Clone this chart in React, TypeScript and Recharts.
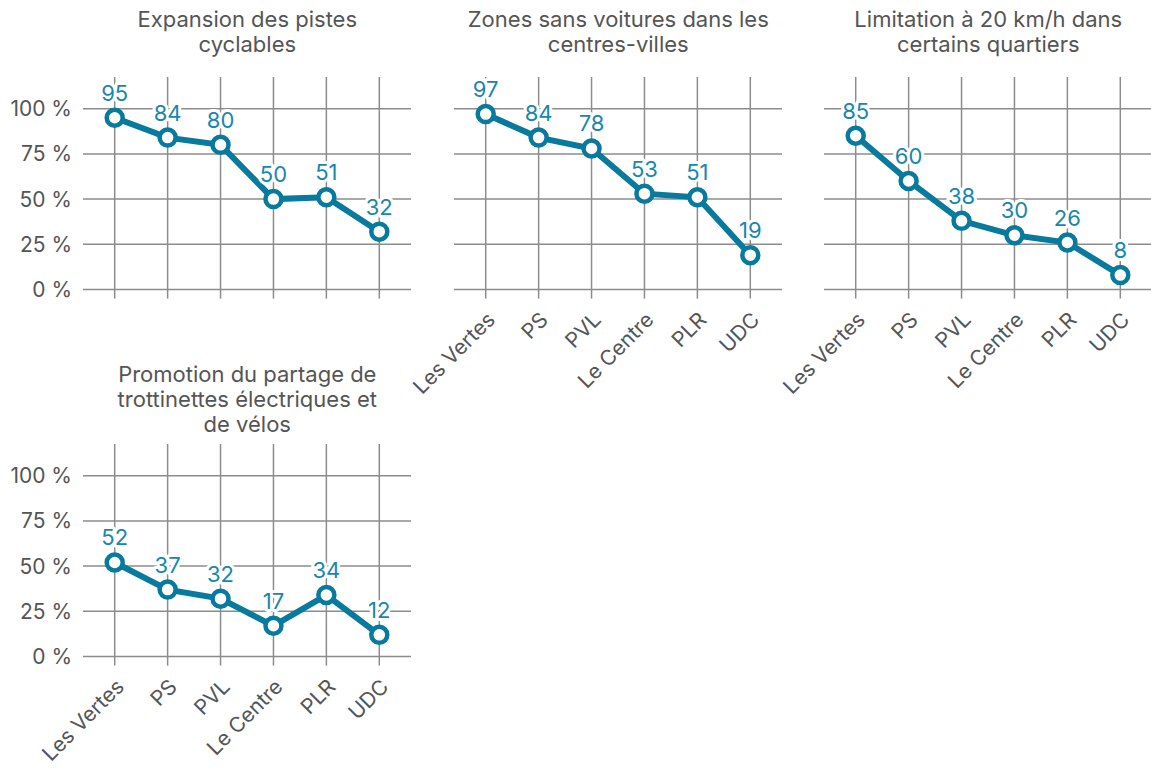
import { LineChart, Line, XAxis, YAxis, CartesianGrid, LabelList } from 'recharts';

const parties = ['Les Vertes', 'PS', 'PVL', 'Le Centre', 'PLR', 'UDC'];

const pistesCyclables = [95, 84, 80, 50, 51, 32];
const zonesSansVoitures = [97, 84, 78, 53, 51, 19];
const limitation20 = [85, 60, 38, 30, 26, 8];
const partageTrottinettes = [52, 37, 32, 17, 34, 12];

const titlePistes = ['Expansion des pistes', 'cyclables'];
const titleZones = ['Zones sans voitures dans les', 'centres-villes'];
const titleLimitation = ['Limitation à 20 km/h dans', 'certains quartiers'];
const titlePartage = ['Promotion du partage de', 'trottinettes électriques et', 'de vélos'];

const yTicks = [0, 25, 50, 75, 100];

const FONT = 'Inter, "Liberation Sans", sans-serif';
const LINE = '#087a9e';
const LABEL = '#1887ae';
const GRID = '#8c8c8c';
const TEXT = '#555555';

// plot area geometry
const colLeft = [83.3, 454.3, 824.3];
const rowTop = [76.7, 444.3];
const plotW = 328;
const plotH = 221.6;
const yAxisW = 83;
const xAxisH = 110;
const pad = 10;

const panels = [
  { title: titlePistes, values: pistesCyclables, col: 0, row: 0, showX: false, showY: true, titleTop: 7 },
  { title: titleZones, values: zonesSansVoitures, col: 1, row: 0, showX: true, showY: false, titleTop: 7 },
  { title: titleLimitation, values: limitation20, col: 2, row: 0, showX: true, showY: false, titleTop: 7 },
  { title: titlePartage, values: partageTrottinettes, col: 0, row: 1, showX: true, showY: true, titleTop: 361.5 },
];

const ValueLabel = (props: any) => {
  const x = props.viewBox?.x ?? props.x;
  const y = props.viewBox?.y ?? props.y;
  return (
    <text
      x={x}
      y={y - 17}
      textAnchor="middle"
      fill={LABEL}
      stroke="#ffffff"
      strokeWidth={6}
      strokeLinejoin="round"
      paintOrder="stroke"
      fontSize={22}
      fontFamily={FONT}
    >
      {props.value}
    </text>
  );
};

const Panel = ({ p }: { p: (typeof panels)[number] }) => {
  const data = parties.map((name, i) => ({ name, value: p.values[i] }));
  const xh = p.showX ? xAxisH : 0;
  const extraBottom = p.showX ? 0 : 20;
  const left = colLeft[p.col] - yAxisW;
  const top = rowTop[p.row] - pad;
  const centerX = colLeft[p.col] + plotW / 2;
  return (
    <>
      <div
        style={{
          position: 'absolute',
          left: centerX - 200,
          top: p.titleTop,
          width: 400,
          textAlign: 'center',
          fontFamily: FONT,
          fontSize: 22,
          lineHeight: '25px',
          color: TEXT,
        }}
      >
        {p.title.map((t, i) => (
          <div key={i}>{t}</div>
        ))}
      </div>
      <div style={{ position: 'absolute', left, top }}>
        <LineChart
          width={yAxisW + plotW + pad}
          height={pad + plotH + xh + extraBottom}
          data={data}
          margin={{ top: pad, right: pad, left: p.showY ? 0 : yAxisW, bottom: extraBottom }}
        >
          <CartesianGrid stroke={GRID} strokeWidth={1.5} syncWithTicks />
          <XAxis
            dataKey="name"
            hide={!p.showX}
            height={xh}
            interval={0}
            padding={{ left: 31.7, right: 31.7 }}
            axisLine={false}
            tickLine={false}
            tickSize={6}
            tickMargin={6}
            angle={-45}
            textAnchor="end"
            tick={{ fill: TEXT, fontSize: 21, fontFamily: FONT }}
          />
          <YAxis
            hide={!p.showY}
            width={p.showY ? yAxisW : 0}
            domain={[-5, 117.5]}
            ticks={yTicks}
            interval={0}
            allowDataOverflow
            axisLine={false}
            tickLine={false}
            tickSize={6}
            tickMargin={5}
            tickFormatter={(v) => `${v} %`}
            tick={{ fill: TEXT, fontSize: 21, fontFamily: FONT }}
          />
          <Line
            dataKey="value"
            stroke={LINE}
            strokeWidth={6}
            dot={{ r: 8, fill: '#ffffff', stroke: LINE, strokeWidth: 4.5 }}
            activeDot={false}
            isAnimationActive={false}
          >
            <LabelList dataKey="value" content={ValueLabel} />
          </Line>
        </LineChart>
      </div>
    </>
  );
};

export default function App() {
  return (
    <div
      style={{
        position: 'absolute',
        left: 0,
        top: 0,
        width: 1151,
        height: 769,
        overflow: 'hidden',
        background: '#ffffff',
      }}
    >
      {panels.map((p, i) => (
        <Panel key={i} p={p} />
      ))}
    </div>
  );
}
